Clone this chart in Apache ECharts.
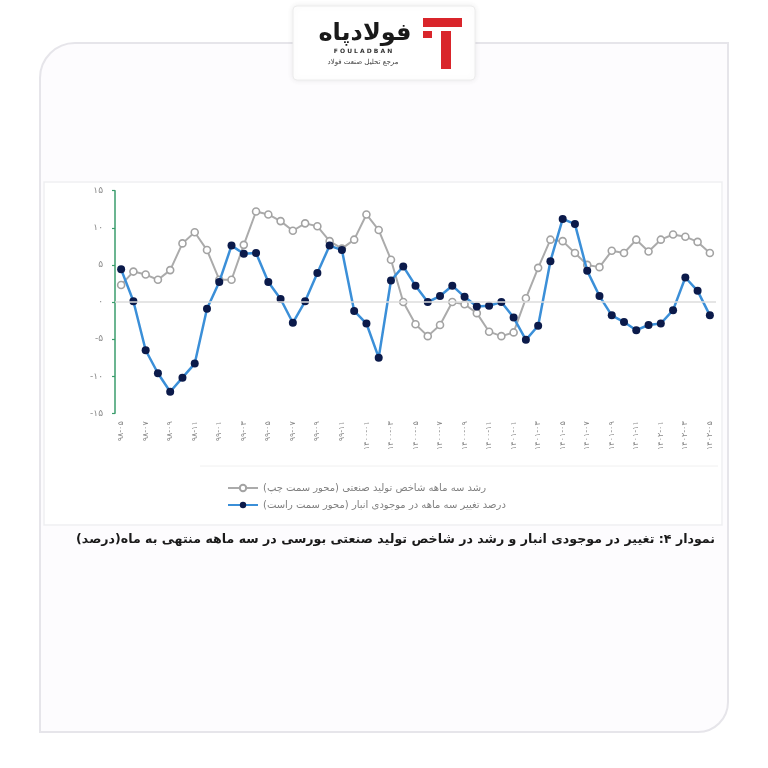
<!DOCTYPE html>
<html>
<head>
<meta charset="utf-8">
<script src="https://cdn.jsdelivr.net/npm/echarts@6/dist/echarts.min.js"></script>
<style>
html,body{margin:0;padding:0;background:#fff;}
#c{width:768px;height:768px;}
</style>
</head>
<body>
<div id="c"></div>
<script>
// ---- data ----
var months = [];
(function(){
  var y = 1398, m = 5;
  for (var i = 0; i < 49; i++) {
    months.push([y, m]);
    m++; if (m > 12) { m = 1; y++; }
  }
})();
var yTicks = [15, 10, 5, 0, -5, -10, -15];
var seriesIndustryName = 'رشد سه ماهه شاخص تولید صنعتی (محور سمت چپ)';
var seriesInventoryName = 'درصد تغییر سه ماهه در موجودی انبار (محور سمت راست)';
var industryGrowth = [2.3, 4.1, 3.7, 3.0, 4.3, 7.9, 9.4, 7.0, 3.0, 3.0,
  7.7, 12.2, 11.8, 10.9, 9.6, 10.6, 10.2, 8.2, 7.2, 8.4,
  11.8, 9.7, 5.7, 0.0, -3.0, -4.6, -3.1, 0.0, -0.3, -1.5,
  -4.0, -4.6, -4.1, 0.5, 4.6, 8.4, 8.2, 6.6, 5.0, 4.7,
  6.9, 6.6, 8.4, 6.8, 8.4, 9.1, 8.8, 8.1, 6.6];
var inventoryChange = [4.4, 0.1, -6.5, -9.6, -12.1, -10.2, -8.3, -0.9, 2.7, 7.6,
  6.5, 6.6, 2.7, 0.4, -2.8, 0.1, 3.9, 7.6, 7.0, -1.2,
  -2.9, -7.5, 2.9, 4.8, 2.2, 0.0, 0.8, 2.2, 0.7, -0.6,
  -0.5, 0.0, -2.1, -5.1, -3.2, 5.5, 11.2, 10.5, 4.2, 0.8,
  -1.8, -2.7, -3.8, -3.1, -2.9, -1.1, 3.3, 1.5, -1.8];
var captionText = 'نمودار ۴: تغییر در موجودی انبار و رشد در شاخص تولید صنعتی بورسی در سه ماهه منتهی به ماه(درصد)';

function fa(s) {
  return String(s).replace(/[0-9]/g, function(d){ return '۰۱۲۳۴۵۶۷۸۹'[+d]; });
}
function pad(n){ return n < 10 ? '0' + n : '' + n; }
var categories = months.map(function(p){
  var yy = p[0] >= 1400 ? String(p[0]) : String(p[0] % 100);
  return fa(yy + '-' + pad(p[1]));
});

var FONT = '"DejaVu Sans", "Noto Sans", sans-serif';
var chart = echarts.init(document.getElementById('c'), null, {renderer: 'canvas'});
var option = {
  backgroundColor: '#ffffff',
  animation: false,
  textStyle: {fontFamily: FONT},
  graphic: [
    // card
    {type: 'rect', z: -10, shape: {x: 40, y: 43, width: 688, height: 689, r: [35, 0, 30, 0]},
     style: {fill: '#fdfcfe', stroke: '#e6e5ea', lineWidth: 2}},
    // chart image frame
    {type: 'rect', z: -9, shape: {x: 44, y: 182, width: 678, height: 343},
     style: {fill: '#ffffff', stroke: '#efeff2', lineWidth: 1.5}},
    // legend frame top line
    {type: 'line', z: -8, shape: {x1: 200, y1: 466, x2: 718, y2: 466}, style: {stroke: '#f0f0f0', lineWidth: 1}},
    // logo box
    {type: 'rect', z: -5, shape: {x: 293, y: 6, width: 182, height: 74, r: 4},
     style: {fill: '#ffffff', stroke: '#ececec', lineWidth: 1, shadowBlur: 6, shadowColor: 'rgba(0,0,0,0.08)'}},
    {type: 'rect', shape: {x: 423, y: 18, width: 39, height: 9}, style: {fill: '#d9252b'}},
    {type: 'rect', shape: {x: 423, y: 31, width: 9, height: 7}, style: {fill: '#d9252b'}},
    {type: 'rect', shape: {x: 441, y: 31, width: 10, height: 38}, style: {fill: '#d9252b'}},
    {type: 'text', style: {x: 365, y: 34, text: 'فولادپاه', font: 'bold 24px ' + FONT, fill: '#1a1a1a', textAlign: 'center', textVerticalAlign: 'middle'}},
    {type: 'text', style: {x: 363, y: 51, text: 'F O U L A D B A N', font: 'bold 6px ' + FONT, fill: '#333', textAlign: 'center', textVerticalAlign: 'middle'}},
    {type: 'text', style: {x: 363, y: 62, text: 'مرجع تحلیل صنعت فولاد', font: '7px ' + FONT, fill: '#444', textAlign: 'center', textVerticalAlign: 'middle'}},
    // caption
    {type: 'text', style: {x: 715, y: 540, text: captionText, font: 'bold 12.6px ' + FONT, fill: '#1a1a1a', textAlign: 'right', textVerticalAlign: 'middle'}}
  ],
  legend: {
    orient: 'vertical',
    left: 222,
    top: 478,
    itemGap: 7,
    itemWidth: 30,
    itemHeight: 8,
    textStyle: {fontSize: 10, color: '#808080', fontFamily: FONT},
    data: [seriesIndustryName, seriesInventoryName]
  },
  grid: {left: 115, top: 190.7, width: 601, height: 222.6, containLabel: false},
  xAxis: {
    type: 'category',
    data: categories,
    boundaryGap: true,
    axisLine: {show: false, onZero: false},
    axisTick: {show: false},
    axisLabel: {interval: 1, rotate: 90, fontSize: 8, color: '#8a8a8a', margin: 8, fontFamily: FONT}
  },
  yAxis: {
    type: 'value',
    min: -15, max: 15, interval: 5,
    axisLine: {show: true, lineStyle: {color: '#3a9c6c', width: 1.5}},
    axisTick: {show: true, length: 3, lineStyle: {color: '#3a9c6c', width: 1.2}},
    splitLine: {show: false},
    axisLabel: {fontSize: 9, color: '#888', margin: 12, fontFamily: FONT,
      formatter: function(v){ return yTicks.indexOf(v) >= 0 ? fa(v) : ''; }}
  },
  series: [
    {
      name: seriesIndustryName,
      type: 'line',
      data: industryGrowth,
      z: 2,
      symbol: 'circle',
      symbolSize: 7,
      lineStyle: {color: '#ababab', width: 2},
      itemStyle: {color: '#ffffff', borderColor: '#a3a3a3', borderWidth: 1.6},
      markLine: {
        silent: true, symbol: 'none', label: {show: false},
        lineStyle: {color: '#dcdcdc', width: 1.5, type: 'solid'},
        data: [{yAxis: 0}]
      }
    },
    {
      name: seriesInventoryName,
      type: 'line',
      data: inventoryChange,
      z: 3,
      symbol: 'circle',
      symbolSize: 8,
      lineStyle: {color: '#3b8fd8', width: 2.5},
      itemStyle: {color: '#0b1a4a', borderColor: '#0b1a4a', borderWidth: 0}
    }
  ]
};
chart.setOption(option);
</script>
</body>
</html>
